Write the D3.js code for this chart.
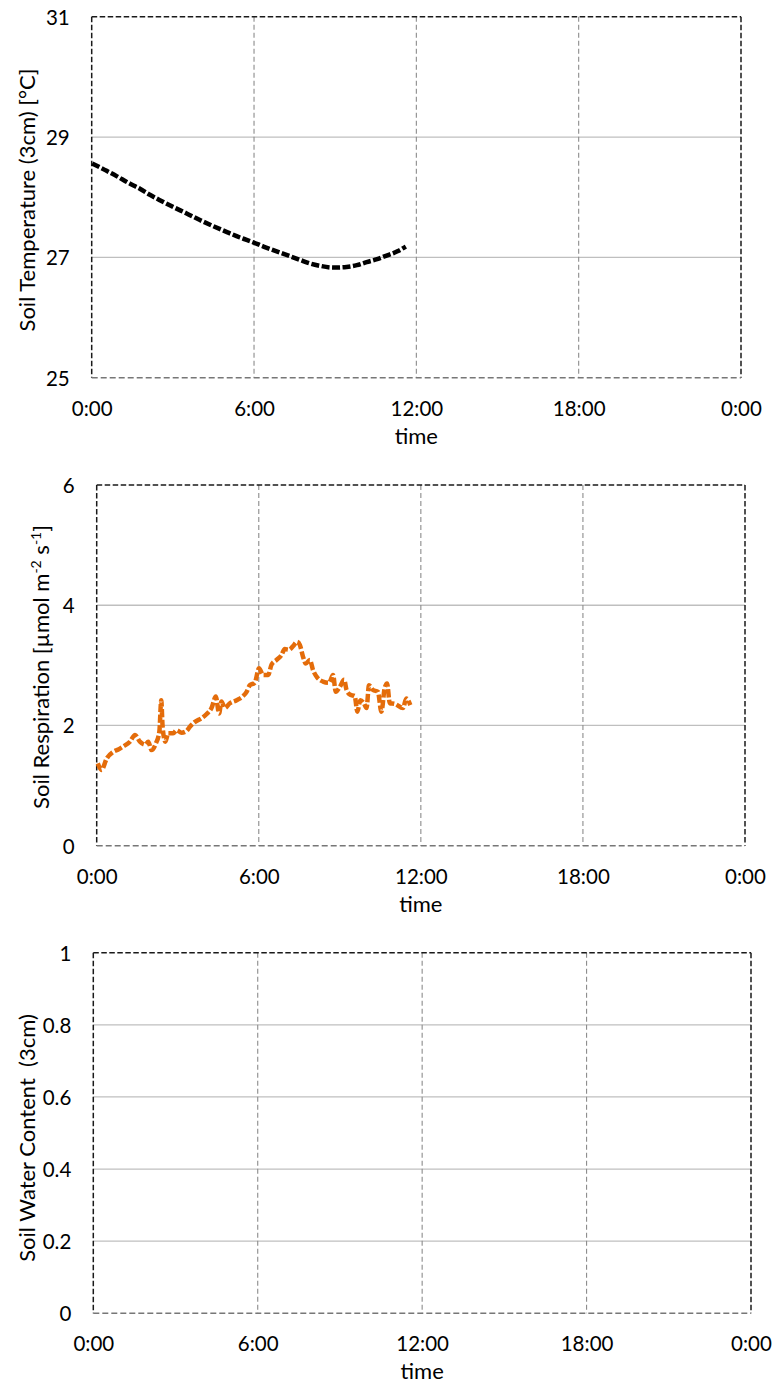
<!DOCTYPE html>
<html>
<head>
<meta charset="utf-8">
<script src="https://cdn.jsdelivr.net/npm/d3@7"></script>
<style>
  html, body { margin: 0; padding: 0; background: #fff; }
  svg { display: block; font-family: Lato, "Open Sans", sans-serif; }
</style>
</head>
<body>
<svg id="chart" width="777" height="1388"></svg>
<script>
// Time axis: hours since midnight, one day
const xTickHours = [0, 6, 12, 18, 24];
const xTickLabels = ["0:00", "6:00", "12:00", "18:00", "0:00"];

// Soil temperature at 3 cm (°C)
const tempHours  = [0.02, 0.5, 0.92, 1.35, 1.78, 2.15, 2.52, 3.0, 3.51, 4.0, 4.49, 5.0, 5.48, 5.97, 6.35, 6.71, 7.2, 7.69, 8.05, 8.43, 8.93, 9.42, 9.8, 10.16, 10.55, 10.9, 11.3, 11.61];
const tempValues = [28.56, 28.45, 28.35, 28.24, 28.14, 28.04, 27.95, 27.84, 27.73, 27.62, 27.52, 27.42, 27.33, 27.25, 27.18, 27.12, 27.04, 26.96, 26.9, 26.86, 26.83, 26.84, 26.87, 26.92, 26.97, 27.03, 27.1, 27.18];

// Soil respiration (µmol m-2 s-1)
const respHours  = [0.04, 0.18, 0.37, 0.61, 0.80, 0.98, 1.23, 1.42, 1.60, 1.79, 1.91, 2.03, 2.19, 2.32, 2.39, 2.44, 2.54, 2.65, 2.83, 2.96, 3.14, 3.33, 3.45, 3.64, 3.88, 4.07, 4.25, 4.41, 4.53, 4.62, 4.74, 4.93, 5.18, 5.42, 5.55, 5.67, 5.85, 6.01, 6.16, 6.35, 6.47, 6.66, 6.84, 6.96, 7.12, 7.27, 7.42, 7.52, 7.64, 7.74, 7.89, 8.01, 8.16, 8.38, 8.60, 8.75, 8.85, 9.00, 9.16, 9.25, 9.39, 9.55, 9.65, 9.76, 9.89, 9.99, 10.08, 10.23, 10.41, 10.54, 10.66, 10.75, 10.85, 11.03, 11.34, 11.46, 11.61];
const respValues = [1.37, 1.26, 1.45, 1.56, 1.60, 1.65, 1.73, 1.84, 1.73, 1.68, 1.73, 1.59, 1.70, 1.90, 2.42, 1.98, 1.73, 1.87, 1.87, 1.92, 1.88, 1.91, 1.98, 2.06, 2.12, 2.19, 2.29, 2.48, 2.20, 2.40, 2.29, 2.37, 2.42, 2.49, 2.56, 2.67, 2.71, 2.95, 2.84, 2.84, 3.01, 3.09, 3.17, 3.27, 3.26, 3.32, 3.39, 3.34, 3.14, 3.03, 3.09, 2.92, 2.80, 2.73, 2.71, 2.84, 2.56, 2.64, 2.76, 2.59, 2.51, 2.49, 2.23, 2.42, 2.37, 2.29, 2.67, 2.59, 2.56, 2.23, 2.62, 2.70, 2.37, 2.36, 2.29, 2.45, 2.34];

// Y axis ticks for each panel
const tempTicks  = [25, 27, 29, 31];
const respTicks  = [0, 2, 4, 6];
const waterTicks = [0, 0.2, 0.4, 0.6, 0.8, 1];

const svg = d3.select("#chart");

function panel(cfg) {
  const g = svg.append("g");
  const x = d3.scaleLinear().domain([0, 24]).range([cfg.left, cfg.right]);
  const y = d3.scaleLinear().domain(cfg.yDomain).range([cfg.bottom, cfg.top]);

  // horizontal gridlines (solid)
  g.append("g").selectAll("line")
    .data(cfg.yTicks.filter(v => v !== cfg.yDomain[0] && v !== cfg.yDomain[1]))
    .join("line")
    .attr("x1", cfg.left).attr("x2", cfg.right)
    .attr("y1", d => y(d)).attr("y2", d => y(d))
    .attr("stroke", "#bfbfbf").attr("stroke-width", 1.3);

  // vertical gridlines (dashed)
  g.append("g").selectAll("line")
    .data(xTickHours.slice(1, -1))
    .join("line")
    .attr("x1", d => x(d)).attr("x2", d => x(d))
    .attr("y1", cfg.top).attr("y2", cfg.bottom)
    .attr("stroke", "#8c8c8c").attr("stroke-width", 1.1)
    .attr("stroke-dasharray", "5 3");

  // plot frame: top, left, right in dark dashes
  const frame = [
    [cfg.left, cfg.top, cfg.right, cfg.top],
    [cfg.left, cfg.top, cfg.left, cfg.bottom],
    [cfg.right, cfg.top, cfg.right, cfg.bottom]
  ];
  g.append("g").selectAll("line").data(frame).join("line")
    .attr("x1", d => d[0]).attr("y1", d => d[1])
    .attr("x2", d => d[2]).attr("y2", d => d[3])
    .attr("stroke", "#1a1a1a").attr("stroke-width", 1.5)
    .attr("stroke-dasharray", "5.5 2.5");

  // bottom axis line in grey dashes
  g.append("line")
    .attr("x1", cfg.left).attr("x2", cfg.right)
    .attr("y1", cfg.bottom).attr("y2", cfg.bottom)
    .attr("stroke", "#777").attr("stroke-width", 1.5)
    .attr("stroke-dasharray", "6 3");

  // x axis labels
  const xAxis = d3.axisBottom(x).tickValues(xTickHours)
    .tickFormat((d, i) => xTickLabels[i]).tickSize(0).tickPadding(0);
  const xa = g.append("g").attr("transform", `translate(0,${cfg.bottom + 38})`).call(xAxis);
  xa.select(".domain").remove();
  xa.selectAll("text").attr("font-size", 20.5).attr("fill", "#000")
    .attr("font-family", "Lato, sans-serif").attr("dy", 0);

  // y axis labels
  const yAxis = d3.axisLeft(y).tickValues(cfg.yTicks)
    .tickFormat(cfg.yFormat).tickSize(0).tickPadding(0);
  const ya = g.append("g").attr("transform", `translate(${cfg.left - 22},0)`).call(yAxis);
  ya.select(".domain").remove();
  ya.selectAll("text").attr("font-size", 20.5).attr("fill", "#000")
    .attr("font-family", "Lato, sans-serif").attr("dy", "0.36em");

  // x title
  g.append("text")
    .attr("x", (cfg.left + cfg.right) / 2).attr("y", cfg.bottom + 66)
    .attr("text-anchor", "middle").attr("font-size", 22).text("time");

  // y title
  const yt = g.append("text")
    .attr("transform", `translate(${cfg.titleX},${cfg.titleY}) rotate(-90)`)
    .attr("text-anchor", "middle").attr("font-size", 22)
    .style("white-space", "pre");
  cfg.title(yt);

  // data series
  if (cfg.hours) {
    const pts = cfg.hours.map((h, i) => [h, cfg.values[i]]);
    const line = d3.line().x(d => x(d[0])).y(d => y(d[1])).curve(d3.curveMonotoneX);
    g.append("path").datum(pts)
      .attr("d", line)
      .attr("fill", "none")
      .attr("stroke", cfg.color)
      .attr("stroke-width", 4.5)
      .attr("stroke-dasharray", "8 2.5")
      .attr("stroke-linejoin", "round");
  }
}

panel({
  left: 91.7, right: 741, top: 16.7, bottom: 377.7,
  yDomain: [25, 31], yTicks: tempTicks, yFormat: d => d,
  titleX: 35, titleY: 200,
  title: t => t.text("Soil Temperature (3cm) [°C]"),
  hours: tempHours, values: tempValues, color: "#000"
});

panel({
  left: 96.7, right: 745, top: 485, bottom: 845.7,
  yDomain: [0, 6], yTicks: respTicks, yFormat: d => d,
  titleX: 49, titleY: 667,
  title: t => {
    t.append("tspan").text("Soil Respiration [µmol m");
    t.append("tspan").attr("baseline-shift", "super").attr("font-size", 14).text("-2");
    t.append("tspan").text(" s");
    t.append("tspan").attr("baseline-shift", "super").attr("font-size", 14).text("-1");
    t.append("tspan").text("]");
  },
  hours: respHours, values: respValues, color: "#e46c0a"
});

panel({
  left: 93.3, right: 751, top: 952.7, bottom: 1313.3,
  yDomain: [0, 1], yTicks: waterTicks, yFormat: d => d,
  titleX: 35, titleY: 1138,
  title: t => t.text("Soil Water Content  (3cm)")
});
</script>
</body>
</html>
